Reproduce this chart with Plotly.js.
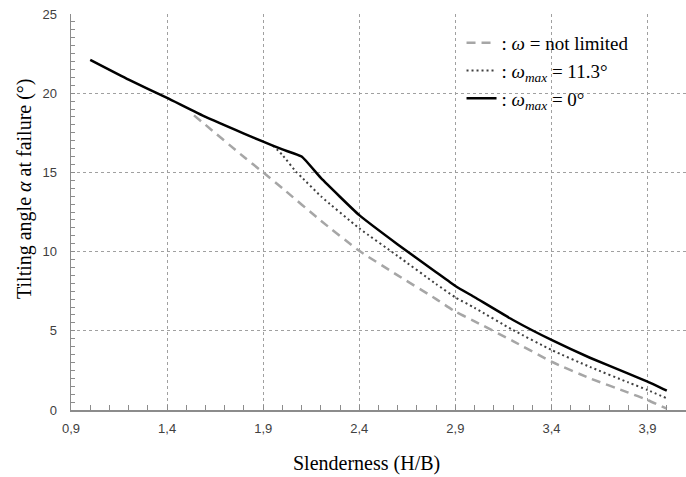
<!DOCTYPE html>
<html>
<head>
<meta charset="utf-8">
<script src="https://cdn.plot.ly/plotly-3.0.1.min.js"></script>
<style>html,body{margin:0;padding:0;background:#fff;}#chart{width:686px;height:477px;}</style>
</head>
<body>
<div id="chart"></div>
<script>
// Series: omega not limited (dashed grey)
const xNotLimited = [1.54, 1.6, 1.8, 1.9, 2.0, 2.2, 2.4, 2.6, 2.8, 2.9, 3.0, 3.2, 3.4, 3.6, 3.8, 3.9, 4.0];
const yNotLimited = [18.6, 18.0, 15.97, 15.0, 14.0, 11.95, 10.05, 8.5, 7.0, 6.21, 5.6, 4.35, 3.05, 2.0, 1.1, 0.63, 0.08];
// Series: omega_max = 11.3° (dotted)
const xOmega113 = [1.95, 2.0, 2.07, 2.1, 2.2, 2.4, 2.6, 2.8, 2.9, 3.0, 3.2, 3.4, 3.6, 3.8, 3.9, 4.0];
const yOmega113 = [16.7, 16.1, 15.05, 14.7, 13.5, 11.47, 9.72, 7.95, 7.11, 6.45, 5.05, 3.79, 2.72, 1.74, 1.26, 0.74];
// Series: omega_max = 0° (solid black)
const xOmega0 = [1.0, 1.2, 1.4, 1.6, 1.8, 1.9, 2.0, 2.1, 2.2, 2.4, 2.6, 2.8, 2.9, 3.0, 3.2, 3.4, 3.6, 3.8, 3.9, 4.0];
const yOmega0 = [22.1, 20.85, 19.7, 18.5, 17.45, 16.94, 16.45, 16.0, 14.65, 12.3, 10.45, 8.7, 7.83, 7.12, 5.68, 4.42, 3.3, 2.3, 1.79, 1.22];
// Ticks
const xTickVals = [0.9, 1.4, 1.9, 2.4, 2.9, 3.4, 3.9];
const xTickText = ["0,9", "1,4", "1,9", "2,4", "2,9", "3,4", "3,9"];
const yTickVals = [0, 5, 10, 15, 20, 25];
const yTickText = ["0", "5", "10", "15", "20", "25"];
const legendNames = [": <i>ω</i> = not limited", ": <i>ω<sub>max</sub></i> = 11.3°", ": <i>ω<sub>max</sub></i> = 0°"];
const xTitle = 'Slenderness (H/B)';
const yTitle = 'Tilting angle <i>α</i> at failure (°)';

const traces = [
  {x: xNotLimited, y: yNotLimited, mode: 'lines', name: legendNames[0],
   line: {color: '#a6a6a6', width: 2.5, dash: '9px,6px', shape: 'spline', smoothing: 0.5}},
  {x: xOmega113, y: yOmega113, mode: 'lines', name: legendNames[1],
   line: {color: '#404040', width: 2, dash: '2px,3px', shape: 'spline', smoothing: 0.5}},
  {x: xOmega0, y: yOmega0, mode: 'lines', name: legendNames[2],
   line: {color: '#000000', width: 2.5, shape: 'spline', smoothing: 0.4}}
];

const axisFont = {family: 'Liberation Sans, Arial, sans-serif', size: 13, color: '#404040'};
const titleFont = {family: 'Liberation Serif, Times New Roman, serif', size: 20, color: '#000'};

const layout = {
  width: 686, height: 477,
  margin: {l: 71, r: 0, t: 14, b: 67},
  paper_bgcolor: '#fff', plot_bgcolor: '#fff',
  showlegend: true,
  legend: {x: 0.635, y: 0.975, xanchor: 'left', yanchor: 'top', bgcolor: 'rgba(0,0,0,0)',
           font: {family: 'Liberation Serif, Times New Roman, serif', size: 19, color: '#000'},
           itemwidth: 30, tracegroupgap: 0},
  xaxis: {
    range: [0.9, 4.1], tickmode: 'array', tickvals: xTickVals, ticktext: xTickText,
    tickfont: axisFont, showline: true, linecolor: '#8c8c8c', linewidth: 1.5,
    ticks: 'inside', ticklen: 5, tickcolor: '#8c8c8c', ticklabelstandoff: 6,
    showgrid: true, gridcolor: '#a0a0a0', griddash: 'dot', gridwidth: 1,
    zeroline: false,
    minor: {tick0: 0.9, dtick: 0.1, ticks: 'inside', ticklen: 5, tickcolor: '#8c8c8c', showgrid: false}
  },
  yaxis: {
    range: [0, 25], tickmode: 'array', tickvals: yTickVals, ticktext: yTickText,
    tickfont: axisFont, showline: true, linecolor: '#8c8c8c', linewidth: 1.5,
    ticks: 'inside', ticklen: 4, tickcolor: '#8c8c8c', ticklabelstandoff: 10,
    showgrid: true, gridcolor: '#a0a0a0', griddash: 'dot', gridwidth: 1,
    zeroline: false,
    minor: {tick0: 0, dtick: 0.5, ticks: 'inside', ticklen: 4, tickcolor: '#8c8c8c', showgrid: false}
  },
  annotations: [
    {text: xTitle, xref: 'paper', yref: 'paper', x: (366 - 71) / 615, y: -(463 - 410) / 396,
     xanchor: 'center', yanchor: 'middle', showarrow: false, font: titleFont},
    {text: yTitle, xref: 'paper', yref: 'paper', x: -(71 - 24) / 615, y: (410 - 189) / 396,
     xanchor: 'center', yanchor: 'middle', showarrow: false, textangle: -90, font: titleFont}
  ]
};

Plotly.newPlot('chart', traces, layout, {displayModeBar: false, staticPlot: true});
</script>
</body>
</html>
